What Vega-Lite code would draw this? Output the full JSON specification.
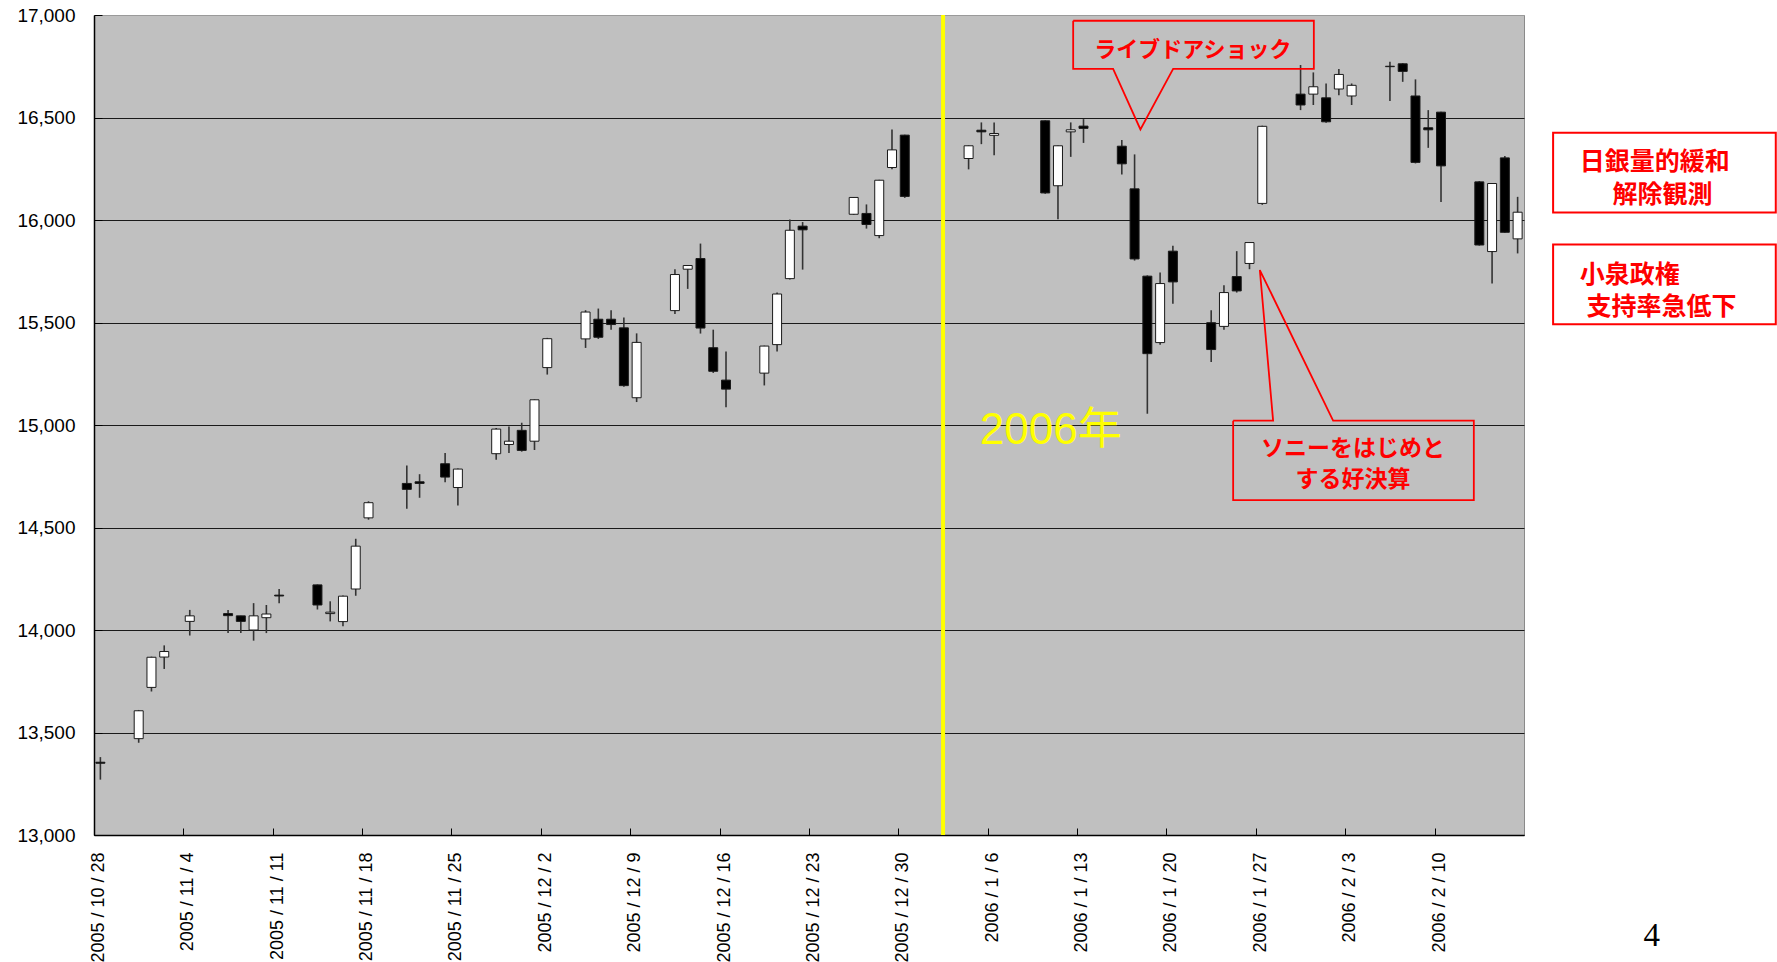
{
  "$schema": "https://vega.github.io/schema/vega-lite/v6.json",
  "width": 1430,
  "height": 820,
  "autosize": {"type": "none"},
  "padding": {"left": 94, "top": 15, "right": 253, "bottom": 127},
  "background": "white",
  "config": {
    "view": {"fill": "#C0C0C0", "stroke": "#8a8a8a", "strokeWidth": 1},
    "axis": {"labelFont": "Liberation Sans", "labelColor": "black"}
  },
  "layer": [
    {
      "data": {"name": "candles"},
      "mark": {"type": "rule", "color": "#333333", "strokeWidth": 1.6},
      "encoding": {
        "x": {
          "field": "date", "type": "temporal",
          "scale": {"type": "time", "nice": false, "padding": 0, "domain": [{"year": 2005, "month": 10, "date": 27, "hours": 12}, {"year": 2006, "month": 2, "date": 16, "hours": 12}]},
          "axis": {
            "title": null,
            "values": [
              {"year": 2005, "month": 10, "date": 28}, {"year": 2005, "month": 11, "date": 4}, {"year": 2005, "month": 11, "date": 11},
              {"year": 2005, "month": 11, "date": 18}, {"year": 2005, "month": 11, "date": 25}, {"year": 2005, "month": 12, "date": 2},
              {"year": 2005, "month": 12, "date": 9}, {"year": 2005, "month": 12, "date": 16}, {"year": 2005, "month": 12, "date": 23},
              {"year": 2005, "month": 12, "date": 30}, {"year": 2006, "month": 1, "date": 6}, {"year": 2006, "month": 1, "date": 13},
              {"year": 2006, "month": 1, "date": 20}, {"year": 2006, "month": 1, "date": 27}, {"year": 2006, "month": 2, "date": 3},
              {"year": 2006, "month": 2, "date": 10}
            ],
            "format": "%Y / %-m / %-d",
            "labelAngle": 270,
            "labelFontSize": 18,
            "labelPadding": 24,
            "tickSize": -7,
            "tickColor": "black",
            "tickOffset": -6.4,
            "labelOffset": 4.5,
            "domainColor": "black",
            "domainWidth": 1.5,
            "grid": false,
            "labelOverlap": false,
            "labelBound": false,
            "labelFlush": false
          }
        },
        "y": {
          "field": "low", "type": "quantitative",
          "scale": {"domain": [13000, 17000], "nice": false, "zero": false},
          "axis": {
            "title": null,
            "values": [13000, 13500, 14000, 14500, 15000, 15500, 16000, 16500, 17000],
            "format": ",d",
            "labelFontSize": 19,
            "labelPadding": 27,
            "tickSize": -8,
            "tickColor": "black",
            "grid": true,
            "gridColor": {"condition": {"test": "datum.value == 17000", "value": "#9a9a9a"}, "value": "#1a1a1a"},
            "gridWidth": 1,
            "domainColor": "black",
            "domainWidth": 1.5
          }
        },
        "y2": {"field": "high"}
      }
    },
    {
      "data": {"name": "candles"},
      "mark": {"type": "bar", "width": 9, "stroke": "#1a1a1a", "strokeWidth": 1},
      "encoding": {
        "x": {"field": "date", "type": "temporal"},
        "y": {"field": "open", "type": "quantitative"},
        "y2": {"field": "close"},
        "fill": {"condition": {"test": "datum.open > datum.close", "value": "black"}, "value": "white"}
      }
    },
    {
      "data": {"values": [{"date": "2006/01/02"}]},
      "mark": {"type": "rule", "color": "#FFFF00", "strokeWidth": 4},
      "encoding": {"x": {"field": "date", "type": "temporal"}}
    },
    {
      "data": {"values": [
        {"g": "ld", "i": 0, "date": "2006/01/12 04:34", "price": 16972},
        {"g": "ld", "i": 1, "date": "2006/01/31 00:58", "price": 16972},
        {"g": "ld", "i": 2, "date": "2006/01/31 00:58", "price": 16737},
        {"g": "ld", "i": 3, "date": "2006/01/20 00:30", "price": 16737},
        {"g": "ld", "i": 4, "date": "2006/01/17 11:00", "price": 16442},
        {"g": "ld", "i": 5, "date": "2006/01/15 07:40", "price": 16737},
        {"g": "ld", "i": 6, "date": "2006/01/12 04:34", "price": 16737},
        {"g": "ld", "i": 7, "date": "2006/01/12 04:34", "price": 16972},
        {"g": "sony", "i": 0, "date": "2006/01/24 17:17", "price": 15021},
        {"g": "sony", "i": 1, "date": "2006/01/27 20:24", "price": 15021},
        {"g": "sony", "i": 2, "date": "2006/01/26 19:26", "price": 15756},
        {"g": "sony", "i": 3, "date": "2006/02/01 13:12", "price": 15021},
        {"g": "sony", "i": 4, "date": "2006/02/12 13:41", "price": 15021},
        {"g": "sony", "i": 5, "date": "2006/02/12 13:41", "price": 14634},
        {"g": "sony", "i": 6, "date": "2006/01/24 17:17", "price": 14634},
        {"g": "sony", "i": 7, "date": "2006/01/24 17:17", "price": 15021}
      ]},
      "mark": {"type": "line", "color": "#FF0000", "strokeWidth": 1.8, "strokeJoin": "miter"},
      "encoding": {
        "x": {"field": "date", "type": "temporal"},
        "y": {"field": "price", "type": "quantitative"},
        "order": {"field": "i", "type": "quantitative"},
        "detail": {"field": "g", "type": "nominal"}
      }
    },
    {
      "data": {"values": [
        {"date": "2006/02/18 18:43", "date2": "2006/03/08 05:17", "price": 16426, "price2": 16036},
        {"date": "2006/02/18 18:43", "date2": "2006/03/08 05:17", "price": 15881, "price2": 15491}
      ]},
      "mark": {"type": "rect", "fill": "white", "stroke": "#FF0000", "strokeWidth": 2},
      "encoding": {
        "x": {"field": "date", "type": "temporal"},
        "x2": {"field": "date2"},
        "y": {"field": "price", "type": "quantitative"},
        "y2": {"field": "price2"}
      }
    },
    {
      "data": {"values": [
        {"date": "2006/01/21 13:30", "price": 16829, "label": "ライブドアショック"}
      ]},
      "mark": {"type": "text", "font": "Noto Sans CJK JP", "fontWeight": "bold", "fontSize": 22, "color": "#FF0000", "align": "center", "baseline": "middle"},
      "encoding": {
        "x": {"field": "date", "type": "temporal"},
        "y": {"field": "price", "type": "quantitative"},
        "text": {"field": "label"}
      }
    },
    {
      "data": {"values": [
        {"date": "2006/02/03 02:40", "price": 14881, "label": "ソニーをはじめと"},
        {"date": "2006/02/03 02:40", "price": 14732, "label": "する好決算"}
      ]},
      "mark": {"type": "text", "font": "Noto Sans CJK JP", "fontWeight": "bold", "fontSize": 23, "color": "#FF0000", "align": "center", "baseline": "middle"},
      "encoding": {
        "x": {"field": "date", "type": "temporal"},
        "y": {"field": "price", "type": "quantitative"},
        "text": {"field": "label"}
      }
    },
    {
      "data": {"values": [
        {"date": "2006/02/20 20:53", "price": 16282, "label": "日銀量的緩和"},
        {"date": "2006/02/23 10:19", "price": 16124, "label": "解除観測"},
        {"date": "2006/02/20 20:53", "price": 15734, "label": "小泉政権"},
        {"date": "2006/02/21 09:22", "price": 15575, "label": "支持率急低下"}
      ]},
      "mark": {"type": "text", "font": "Noto Sans CJK JP", "fontWeight": "bold", "fontSize": 25, "color": "#FF0000", "align": "left", "baseline": "middle"},
      "encoding": {
        "x": {"field": "date", "type": "temporal"},
        "y": {"field": "price", "type": "quantitative"},
        "text": {"field": "label"}
      }
    },
    {
      "data": {"values": [{"date": "2006/01/04 21:07", "price": 14973, "label": "2006年"}]},
      "mark": {"type": "text", "font": "Liberation Sans, Noto Sans CJK JP", "fontSize": 44, "color": "#FFFF00", "align": "left", "baseline": "middle"},
      "encoding": {
        "x": {"field": "date", "type": "temporal"},
        "y": {"field": "price", "type": "quantitative"},
        "text": {"field": "label"}
      }
    },
    {
      "data": {"values": [{"date": "2006/02/26 12:00", "price": 12507, "label": "4"}]},
      "mark": {"type": "text", "font": "Liberation Serif", "fontSize": 33, "color": "black", "align": "center", "baseline": "middle"},
      "encoding": {
        "x": {"field": "date", "type": "temporal"},
        "y": {"field": "price", "type": "quantitative"},
        "text": {"field": "label"}
      }
    }
  ],
  "datasets": {
    "candles": [
      {"date":"2005/10/28","open":13355,"high":13380,"low":13270,"close":13350},
      {"date":"2005/10/31","open":13470,"high":13610,"low":13450,"close":13606},
      {"date":"2005/11/01","open":13720,"high":13870,"low":13700,"close":13867},
      {"date":"2005/11/02","open":13868,"high":13925,"low":13810,"close":13895},
      {"date":"2005/11/04","open":14042,"high":14098,"low":13973,"close":14069},
      {"date":"2005/11/07","open":14080,"high":14098,"low":13985,"close":14070},
      {"date":"2005/11/08","open":14069,"high":14070,"low":13985,"close":14042},
      {"date":"2005/11/09","open":14000,"high":14131,"low":13948,"close":14069},
      {"date":"2005/11/10","open":14060,"high":14122,"low":13985,"close":14078},
      {"date":"2005/11/11","open":14170,"high":14200,"low":14130,"close":14166},
      {"date":"2005/11/14","open":14220,"high":14222,"low":14100,"close":14122},
      {"date":"2005/11/15","open":14080,"high":14140,"low":14042,"close":14087},
      {"date":"2005/11/16","open":14041,"high":14168,"low":14018,"close":14165},
      {"date":"2005/11/17","open":14200,"high":14445,"low":14167,"close":14409},
      {"date":"2005/11/18","open":14547,"high":14628,"low":14538,"close":14621},
      {"date":"2005/11/21","open":14715,"high":14803,"low":14591,"close":14686},
      {"date":"2005/11/22","open":14723,"high":14760,"low":14645,"close":14715},
      {"date":"2005/11/24","open":14811,"high":14863,"low":14721,"close":14746},
      {"date":"2005/11/25","open":14695,"high":14788,"low":14607,"close":14785},
      {"date":"2005/11/28","open":14860,"high":14985,"low":14830,"close":14980},
      {"date":"2005/11/29","open":14905,"high":14993,"low":14863,"close":14921},
      {"date":"2005/11/30","open":14974,"high":15011,"low":14870,"close":14876},
      {"date":"2005/12/01","open":14921,"high":15125,"low":14878,"close":15123},
      {"date":"2005/12/02","open":15280,"high":15425,"low":15246,"close":15421},
      {"date":"2005/12/05","open":15420,"high":15560,"low":15376,"close":15551},
      {"date":"2005/12/06","open":15516,"high":15568,"low":15420,"close":15428},
      {"date":"2005/12/07","open":15516,"high":15560,"low":15465,"close":15490},
      {"date":"2005/12/08","open":15474,"high":15524,"low":15186,"close":15192},
      {"date":"2005/12/09","open":15133,"high":15447,"low":15112,"close":15403},
      {"date":"2005/12/12","open":15558,"high":15760,"low":15542,"close":15734},
      {"date":"2005/12/13","open":15760,"high":15780,"low":15664,"close":15778},
      {"date":"2005/12/14","open":15812,"high":15885,"low":15446,"close":15473},
      {"date":"2005/12/15","open":15377,"high":15465,"low":15254,"close":15262},
      {"date":"2005/12/16","open":15219,"high":15359,"low":15087,"close":15175},
      {"date":"2005/12/19","open":15253,"high":15387,"low":15193,"close":15385},
      {"date":"2005/12/20","open":15392,"high":15646,"low":15359,"close":15639},
      {"date":"2005/12/21","open":15714,"high":16002,"low":15710,"close":15950},
      {"date":"2005/12/22","open":15970,"high":15990,"low":15758,"close":15952},
      {"date":"2005/12/26","open":16028,"high":16112,"low":16025,"close":16110},
      {"date":"2005/12/27","open":16032,"high":16076,"low":15958,"close":15978},
      {"date":"2005/12/28","open":15924,"high":16196,"low":15911,"close":16194},
      {"date":"2005/12/29","open":16256,"high":16442,"low":16247,"close":16342},
      {"date":"2005/12/30","open":16414,"high":16416,"low":16108,"close":16115},
      {"date":"2006/01/04","open":16300,"high":16364,"low":16247,"close":16362},
      {"date":"2006/01/05","open":16438,"high":16476,"low":16370,"close":16430},
      {"date":"2006/01/06","open":16413,"high":16476,"low":16316,"close":16422},
      {"date":"2006/01/10","open":16484,"high":16486,"low":16128,"close":16132},
      {"date":"2006/01/11","open":16167,"high":16364,"low":16004,"close":16362},
      {"date":"2006/01/12","open":16430,"high":16476,"low":16308,"close":16440},
      {"date":"2006/01/13","open":16458,"high":16492,"low":16376,"close":16447},
      {"date":"2006/01/16","open":16360,"high":16390,"low":16222,"close":16274},
      {"date":"2006/01/17","open":16152,"high":16320,"low":15802,"close":15810},
      {"date":"2006/01/18","open":15726,"high":15730,"low":15055,"close":15348},
      {"date":"2006/01/19","open":15402,"high":15744,"low":15392,"close":15690},
      {"date":"2006/01/20","open":15848,"high":15874,"low":15592,"close":15698},
      {"date":"2006/01/23","open":15499,"high":15560,"low":15307,"close":15368},
      {"date":"2006/01/24","open":15481,"high":15682,"low":15465,"close":15646},
      {"date":"2006/01/25","open":15724,"high":15848,"low":15646,"close":15654},
      {"date":"2006/01/26","open":15788,"high":15892,"low":15760,"close":15890},
      {"date":"2006/01/27","open":16081,"high":16460,"low":16074,"close":16457},
      {"date":"2006/01/30","open":16614,"high":16756,"low":16536,"close":16561},
      {"date":"2006/01/31","open":16614,"high":16720,"low":16561,"close":16650},
      {"date":"2006/02/01","open":16596,"high":16666,"low":16474,"close":16479},
      {"date":"2006/02/02","open":16639,"high":16736,"low":16609,"close":16710},
      {"date":"2006/02/03","open":16605,"high":16666,"low":16561,"close":16657},
      {"date":"2006/02/06","open":16748,"high":16772,"low":16580,"close":16750},
      {"date":"2006/02/07","open":16762,"high":16765,"low":16674,"close":16725},
      {"date":"2006/02/08","open":16605,"high":16686,"low":16276,"close":16281},
      {"date":"2006/02/09","open":16450,"high":16536,"low":16352,"close":16440},
      {"date":"2006/02/10","open":16526,"high":16528,"low":16088,"close":16264},
      {"date":"2006/02/13","open":16186,"high":16190,"low":15875,"close":15878},
      {"date":"2006/02/14","open":15846,"high":16180,"low":15690,"close":16178},
      {"date":"2006/02/15","open":16303,"high":16312,"low":15938,"close":15940},
      {"date":"2006/02/16","open":15908,"high":16113,"low":15837,"close":16038}
    ]
  }
}
